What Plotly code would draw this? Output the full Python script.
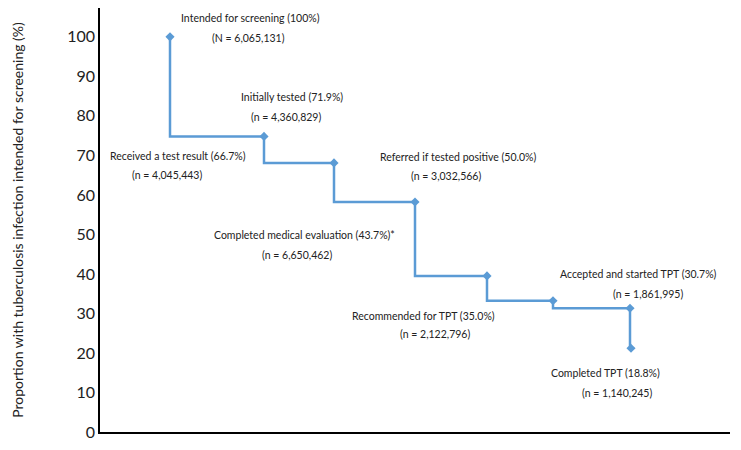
import plotly.graph_objects as go

# Stage positions along the (unlabelled) x axis and proportions (%)
stage_x = [0.70, 1.64, 2.34, 3.15, 3.87, 4.53, 5.30, 5.31]
proportion = [100, 74.8, 68.1, 58.2, 39.5, 33.2, 31.3, 21.2]

# Annotation texts: (first line, second line)
stage_labels = [
    "Intended for screening (100%)",
    "Initially tested (71.9%)",
    "Received a test result (66.7%)",
    "Referred if tested positive (50.0%)",
    "Completed medical evaluation (43.7%)*",
    "Recommended for TPT (35.0%)",
    "Accepted and started TPT (30.7%)",
    "Completed TPT (18.8%)",
]
stage_counts = [
    "(N = 6,065,131)",
    "(n = 4,360,829)",
    "(n = 4,045,443)",
    "(n = 3,032,566)",
    "(n = 6,650,462)",
    "(n = 2,122,796)",
    "(n = 1,861,995)",
    "(n = 1,140,245)",
]
y_ticks = [0, 10, 20, 30, 40, 50, 60, 70, 80, 90, 100]

BLUE = "#5B9BD5"
FONT = "Lato"

fig = go.Figure()
fig.add_trace(go.Scatter(
    x=stage_x, y=proportion,
    mode="lines+markers",
    line=dict(color=BLUE, width=2.5, shape="vh"),
    marker=dict(symbol="diamond", size=7, color=BLUE),
    hoverinfo="skip",
    showlegend=False,
))

# label placement in data units: (x line 1, y line 1, x line 2, y line 2)
label_pos = [
    (1.50, 104.8, 1.48, 99.8),
    (1.92, 84.9, 1.86, 79.8),
    (0.78, 69.8, 0.67, 65.0),
    (3.58, 69.6, 3.46, 64.8),
    (2.04, 49.9, 1.97, 44.8),
    (3.23, 29.4, 3.345, 24.8),
    (5.38, 39.9, 5.477, 34.9),
    (5.05, 15.0, 5.167, 9.9),
]

for (x1, y1, x2, y2), t1, t2 in zip(label_pos, stage_labels, stage_counts):
    fig.add_annotation(x=x1, y=y1, text=t1, showarrow=False,
                       font=dict(family=FONT, size=10.5, color="#222"))
    fig.add_annotation(x=x2, y=y2, text=t2, showarrow=False,
                       font=dict(family=FONT, size=10.5, color="#222"))

# the page puts the figure 8px in from the top-left corner, so the sizes allow for that
fig.update_layout(
    width=733, height=442,
    margin=dict(l=92, r=11, t=0, b=18),
    paper_bgcolor="white", plot_bgcolor="white",
    font=dict(family=FONT, color="#222"),
    xaxis=dict(range=[0, 6.3], showticklabels=False, showgrid=False,
               zeroline=False, showline=True, linecolor="black", linewidth=2,
               ticks=""),
    yaxis=dict(range=[0, 107.3], tickvals=y_ticks, showgrid=False,
               zeroline=False, showline=True, linecolor="black", linewidth=1.5,
               ticks="", tickfont=dict(family=FONT, size=16, color="#222"),
               title=dict(text="Proportion with tuberculosis infection intended for screening (%)",
                          font=dict(family=FONT, size=14, color="#222"), standoff=40)),
)

fig.write_html("out.html")
